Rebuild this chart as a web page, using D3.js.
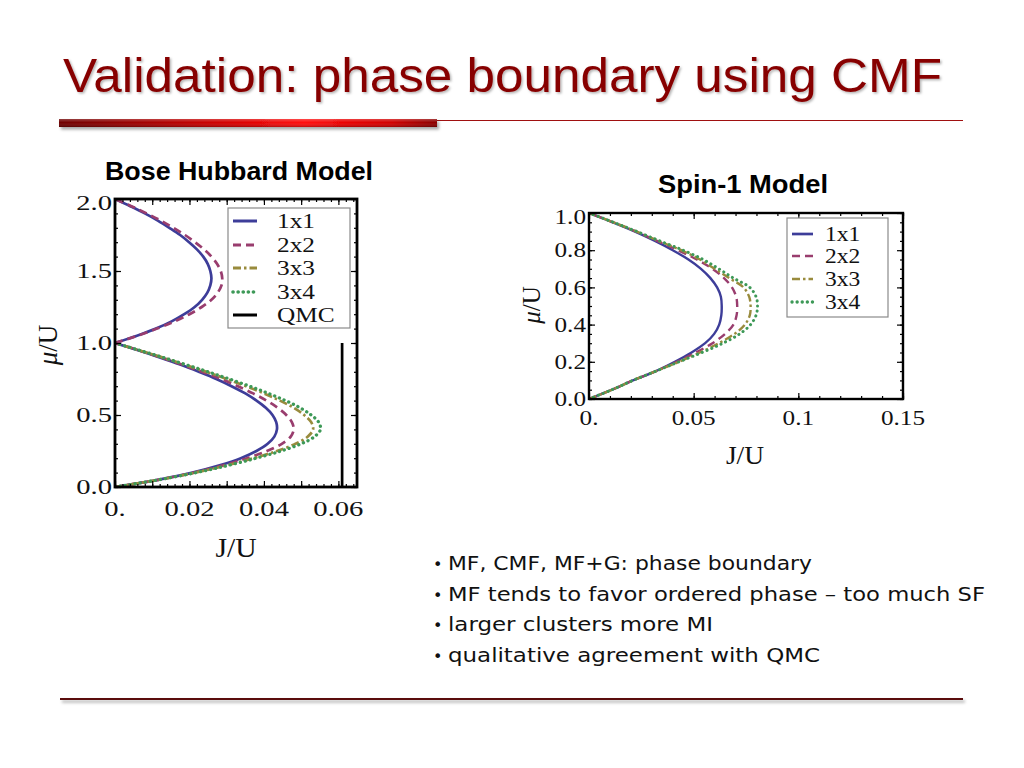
<!DOCTYPE html>
<html><head><meta charset="utf-8">
<script src="https://cdn.jsdelivr.net/npm/d3@7"></script>
<style>body{margin:0;background:#fff;} svg{display:block;}</style>
</head><body>
<svg id="c" width="1024" height="768"></svg>
<script>
// ---------------- DATA ----------------
const mainTitle = "Validation: phase boundary using CMF";
const bhTitle = "Bose Hubbard Model";
const spinTitle = "Spin-1 Model";
const bullets = [
  "MF, CMF, MF+G: phase boundary",
  "MF tends to favor ordered phase \u2013 too much SF",
  "larger clusters more MI",
  "qualitative agreement with QMC"
];
const seriesNames = ["1x1", "2x2", "3x3", "3x4"];
const qmcName = "QMC";

// chemical potential grid (mu/U)
const muLower = [0,0.05,0.1,0.15,0.2,0.25,0.3,0.35,0.4,0.45,0.5,0.55,0.6,0.65,0.7,0.75,0.8,0.85,0.9,0.95,1.0];
const muUpper = [1,1.05,1.1,1.15,1.2,1.25,1.3,1.35,1.4,1.45,1.5,1.55,1.6,1.65,1.7,1.75,1.8,1.85,1.9,1.95,2.0];

// Bose Hubbard: J/U of the boundary, lower lobe (n=1)
const bhLower1x1 = [0,0.0115,0.0208,0.0281,0.0338,0.0380,0.0410,0.0428,0.0435,0.0433,0.0423,0.0405,0.0380,0.0350,0.0313,0.0272,0.0225,0.0175,0.0120,0.0062,0];
const bhLower2x2 = [0,0.0116,0.0212,0.0290,0.0355,0.0408,0.0448,0.0472,0.0480,0.0475,0.0460,0.0437,0.0407,0.0371,0.0330,0.0285,0.0234,0.0180,0.0123,0.0063,0];
const bhLower3x3 = [0,0.0117,0.0216,0.0300,0.0372,0.0435,0.0485,0.0518,0.0532,0.0527,0.0508,0.0480,0.0443,0.0400,0.0352,0.0300,0.0245,0.0187,0.0127,0.0064,0];
const bhLower3x4 = [0,0.0117,0.0218,0.0304,0.0379,0.0446,0.0500,0.0536,0.0552,0.0547,0.0527,0.0497,0.0458,0.0412,0.0362,0.0307,0.0250,0.0190,0.0129,0.0065,0];
// upper lobe (n=2)
const bhUpper1x1 = [0,0.0059,0.0110,0.0152,0.0186,0.0214,0.0234,0.0248,0.0256,0.0259,0.0256,0.0249,0.0237,0.0220,0.0199,0.0175,0.0146,0.0115,0.0080,0.0041,0];
const bhUpper2x2 = [0,0.0060,0.0113,0.0160,0.0200,0.0233,0.0259,0.0276,0.0286,0.0288,0.0284,0.0274,0.0259,0.0239,0.0215,0.0188,0.0157,0.0123,0.0085,0.0044,0];
// QMC critical value (vertical line)
const qmcJ = [0.061, 0.061];
const qmcMu = [0, 1.0];

// Spin-1 model
const spin1x1 = [0,0.011,0.021,0.032,0.041,0.049,0.0555,0.0598,0.0622,0.0632,0.0634,0.0630,0.0612,0.0580,0.0535,0.0475,0.0400,0.0315,0.0220,0.0113,0];
const spin2x2 = [0,0.011,0.021,0.032,0.042,0.051,0.059,0.065,0.0690,0.0705,0.0708,0.0703,0.0683,0.0645,0.0590,0.0515,0.0425,0.0325,0.0225,0.0115,0];
const spin3x3 = [0,0.011,0.021,0.032,0.043,0.053,0.062,0.0695,0.0745,0.0768,0.0772,0.0765,0.0738,0.0670,0.0600,0.0530,0.0440,0.0332,0.0228,0.0116,0];
const spin3x4 = [0,0.011,0.021,0.032,0.043,0.054,0.064,0.0720,0.0772,0.0798,0.0805,0.0798,0.0768,0.0690,0.0620,0.0545,0.0450,0.0338,0.0230,0.0117,0];

// ticks
const bhXTicks = [0, 0.02, 0.04, 0.06];
const bhXTickLabels = ["0.", "0.02", "0.04", "0.06"];
const bhYTicks = [0, 0.5, 1.0, 1.5, 2.0];
const bhYTickLabels = ["0.0", "0.5", "1.0", "1.5", "2.0"];
const spinXTicks = [0, 0.05, 0.1, 0.15];
const spinXTickLabels = ["0.", "0.05", "0.1", "0.15"];
const spinYTicks = [0, 0.2, 0.4, 0.6, 0.8, 1.0];
const spinYTickLabels = ["0.0", "0.2", "0.4", "0.6", "0.8", "1.0"];

// ---------------- STYLE ----------------
const styles = {
  "1x1": {color: "#3d3d99", dash: null, cap: "butt"},
  "2x2": {color: "#993d6e", dash: "8,5", cap: "butt"},
  "3x3": {color: "#998b3d", dash: "8,3,2.5,3", cap: "butt"},
  "3x4": {color: "#3d9957", dash: "0.1,5", cap: "round"},
  "QMC": {color: "#000000", dash: null, cap: "butt"}
};
const serif = "'Liberation Serif', 'Times New Roman', serif";

const svg = d3.select("#c");
const defs = svg.append("defs");
const grad = defs.append("linearGradient").attr("id", "barGrad").attr("x1", "0").attr("x2", "1").attr("y1", "0").attr("y2", "0");
[["0%", "#6e0000"], ["35%", "#c00000"], ["65%", "#ff0a0a"], ["88%", "#d00000"], ["100%", "#8a0000"]]
  .forEach(([o, c]) => grad.append("stop").attr("offset", o).attr("stop-color", c));
const gradV = defs.append("linearGradient").attr("id", "barGloss").attr("x1", "0").attr("x2", "0").attr("y1", "0").attr("y2", "1");
[["0%", "#ffffff", 0.25], ["45%", "#ffffff", 0.0], ["100%", "#000000", 0.25]]
  .forEach(([o, c, a]) => gradV.append("stop").attr("offset", o).attr("stop-color", c).attr("stop-opacity", a));
const sh = defs.append("filter").attr("id", "shadow").attr("filterUnits", "userSpaceOnUse")
  .attr("x", 0).attr("y", 0).attr("width", 1024).attr("height", 768);
sh.append("feDropShadow").attr("dx", 2).attr("dy", 2.5).attr("stdDeviation", 1.5).attr("flood-color", "#000").attr("flood-opacity", 0.35);
const tsh = defs.append("filter").attr("id", "tshadow").attr("x", "-5%").attr("y", "-20%").attr("width", "110%").attr("height", "150%");
tsh.append("feDropShadow").attr("dx", 1.5).attr("dy", 1.5).attr("stdDeviation", 1).attr("flood-color", "#000").attr("flood-opacity", 0.3);

// ---------------- HEADER ----------------
svg.append("text").attr("x", 63).attr("y", 92)
  .attr("font-family", "'Liberation Sans', Arial, sans-serif").attr("font-size", 48)
  .attr("fill", "#870000").attr("textLength", 879).attr("lengthAdjust", "spacingAndGlyphs")
  .attr("filter", "url(#tshadow)").text(mainTitle);
svg.append("rect").attr("x", 437).attr("y", 120).attr("width", 526).attr("height", 1)
  .attr("fill", "#a01010");
svg.append("rect").attr("x", 59).attr("y", 119).attr("width", 378).attr("height", 8)
  .attr("fill", "url(#barGrad)").attr("filter", "url(#shadow)");
svg.append("rect").attr("x", 59).attr("y", 119).attr("width", 378).attr("height", 8)
  .attr("fill", "url(#barGloss)");
svg.append("rect").attr("x", 60).attr("y", 698).attr("width", 903).attr("height", 2)
  .attr("fill", "#5a0c0c").attr("filter", "url(#shadow)");

// chart titles
svg.append("text").attr("x", 239).attr("y", 180).attr("text-anchor", "middle")
  .attr("font-family", "'Liberation Sans', Arial, sans-serif").attr("font-weight", "bold")
  .attr("font-size", 25).attr("textLength", 268).attr("lengthAdjust", "spacingAndGlyphs").text(bhTitle);
svg.append("text").attr("x", 743).attr("y", 193).attr("text-anchor", "middle")
  .attr("font-family", "'Liberation Sans', Arial, sans-serif").attr("font-weight", "bold")
  .attr("font-size", 25).attr("textLength", 170).attr("lengthAdjust", "spacingAndGlyphs").text(spinTitle);

// bullets
const bulletY = [570, 601, 631, 662];
const bulletW = [364, 537, 265, 372];
bullets.forEach((t, i) => {
  svg.append("text").attr("x", 433).attr("y", bulletY[i]).attr("font-family", "'DejaVu Sans', sans-serif")
    .attr("font-size", 16).attr("fill", "#111").text("\u2022");
  const tx = svg.append("text").attr("x", 448).attr("y", bulletY[i]).attr("font-family", "'DejaVu Sans', sans-serif")
    .attr("font-size", 20).attr("fill", "#111").text(t);
  const w = tx.node().getComputedTextLength();
  if (Math.abs(w - bulletW[i]) / bulletW[i] > 0.02) tx.attr("textLength", bulletW[i]).attr("lengthAdjust", "spacingAndGlyphs");
});

// ---------------- helpers ----------------
function stext(g, x, y, str, size, sx, anchor) {
  return g.append("text").attr("transform", `translate(${x},${y}) scale(${sx},1)`)
    .attr("text-anchor", anchor).attr("font-family", serif).attr("font-size", size)
    .attr("fill", "#111").text(str);
}

function drawPlot(cfg) {
  const g = svg.append("g");
  const x = d3.scaleLinear(cfg.xDomain, cfg.xRange);
  const y = d3.scaleLinear(cfg.yDomain, cfg.yRange);
  const [x0, x1] = cfg.xRange, [y0, y1] = cfg.yRange;

  const clipId = "clip" + cfg.id;
  defs.append("clipPath").attr("id", clipId).append("rect")
    .attr("x", x0).attr("y", y1).attr("width", x1 - x0).attr("height", y0 - y1);

  const line = d3.line().x(d => x(d[0])).y(d => y(d[1])).curve(d3.curveCatmullRom.alpha(0.5));
  const cg = g.append("g").attr("clip-path", `url(#${clipId})`);
  cfg.curves.forEach(c => {
    const s = styles[c.name];
    cg.append("path").datum(d3.zip(c.J, c.mu)).attr("d", line)
      .attr("fill", "none").attr("stroke", s.color)
      .attr("stroke-width", c.name === "3x4" ? cfg.lw + 0.6 : cfg.lw)
      .attr("stroke-linecap", s.cap).attr("stroke-dasharray", s.dash);
  });

  // ticks (inward) on all four sides
  const tickStyle = sel => { sel.select(".domain").remove(); sel.selectAll("line").attr("stroke", "#000").attr("stroke-width", 1.2); };
  const xMaj = cfg.xMajor, xMin = cfg.xMinor, yMaj = cfg.yMajor, yMin = cfg.yMinor;
  [[d3.axisBottom, y0], [d3.axisTop, y1]].forEach(([ax, pos]) => {
    g.append("g").attr("transform", `translate(0,${pos})`).call(ax(x).tickValues(xMin).tickSize(-3).tickFormat("")).call(tickStyle);
    g.append("g").attr("transform", `translate(0,${pos})`).call(ax(x).tickValues(xMaj).tickSize(-6).tickFormat("")).call(tickStyle);
  });
  [[d3.axisLeft, x0], [d3.axisRight, x1]].forEach(([ax, pos]) => {
    g.append("g").attr("transform", `translate(${pos},0)`).call(ax(y).tickValues(yMin).tickSize(-3).tickFormat("")).call(tickStyle);
    g.append("g").attr("transform", `translate(${pos},0)`).call(ax(y).tickValues(yMaj).tickSize(-6).tickFormat("")).call(tickStyle);
  });

  // frame
  g.append("rect").attr("x", x0).attr("y", y1).attr("width", x1 - x0).attr("height", y0 - y1)
    .attr("fill", "none").attr("stroke", "#000").attr("stroke-width", cfg.frameW);

  // tick labels
  cfg.xTicks.forEach((v, i) => stext(g, x(v), y0 + cfg.xLabOff, cfg.xTickLabels[i], cfg.fs, cfg.sx, "middle"));
  cfg.yTicks.forEach((v, i) => {
    const yy = y(v) + cfg.fs * 0.34 + (i === cfg.yTicks.length - 1 ? 4 : 0);
    stext(g, x0 - 3, yy, cfg.yTickLabels[i], cfg.fs, cfg.sx, "end");
  });

  // axis titles
  stext(g, cfg.xTitle[0], cfg.xTitle[1], "J/U", cfg.tfs, 1.1, "middle");
  const yt = g.append("text").attr("transform", `translate(${cfg.yTitle[0]},${cfg.yTitle[1]}) rotate(-90)`)
    .attr("text-anchor", "middle").attr("font-family", serif).attr("font-size", cfg.tfs).attr("fill", "#111");
  yt.append("tspan").attr("font-style", "italic").text("\u03bc");
  yt.append("tspan").text("/U");

  // legend
  const L = cfg.legend;
  g.append("rect").attr("x", L.x).attr("y", L.y).attr("width", L.w).attr("height", L.h)
    .attr("fill", "#fff").attr("stroke", "#8a8a8a").attr("stroke-width", 1.2);
  L.names.forEach((n, i) => {
    const s = styles[n];
    const yy = L.rows[i];
    g.append("line").attr("x1", L.sx0).attr("x2", L.sx1).attr("y1", yy).attr("y2", yy)
      .attr("stroke", s.color).attr("stroke-width", n === "3x4" ? cfg.lw + 0.9 : cfg.lw + 0.3)
      .attr("stroke-linecap", s.cap).attr("stroke-dasharray", s.dash);
    stext(g, L.tx, yy + L.fs * 0.34, n, L.fs, L.tsx, "start");
  });
}

const r = (a, b, s) => d3.range(a, b + s / 2, s).map(v => +v.toFixed(6));

drawPlot({
  id: "bh",
  xDomain: [0, 0.065], xRange: [115, 357],
  yDomain: [0, 2], yRange: [487, 199],
  lw: 2.7, frameW: 2.8,
  xMajor: r(0, 0.06, 0.01), xMinor: r(0, 0.064, 0.002),
  yMajor: r(0, 2, 0.5), yMinor: r(0, 2, 0.1),
  xTicks: bhXTicks, xTickLabels: bhXTickLabels, yTicks: bhYTicks, yTickLabels: bhYTickLabels,
  fs: 22, sx: 1.3, xLabOff: 29, tfs: 27,
  xTitle: [236, 557], yTitle: [57, 345],
  curves: [
    {name: "1x1", J: bhLower1x1, mu: muLower},
    {name: "2x2", J: bhLower2x2, mu: muLower},
    {name: "3x3", J: bhLower3x3, mu: muLower},
    {name: "3x4", J: bhLower3x4, mu: muLower},
    {name: "1x1", J: bhUpper1x1, mu: muUpper},
    {name: "2x2", J: bhUpper2x2, mu: muUpper},
    {name: "QMC", J: qmcJ, mu: qmcMu}
  ],
  legend: {x: 228, y: 208, w: 122, h: 120, names: seriesNames.concat([qmcName]),
           rows: [221, 245, 268, 292, 315], sx0: 233, sx1: 257, tx: 277, fs: 22, tsx: 1.15}
});

drawPlot({
  id: "spin",
  xDomain: [0, 0.15], xRange: [589, 903],
  yDomain: [0, 1], yRange: [399, 213],
  lw: 2.4, frameW: 2.4,
  xMajor: r(0, 0.15, 0.05), xMinor: r(0, 0.15, 0.01),
  yMajor: r(0, 1, 0.2), yMinor: r(0, 1, 0.05),
  xTicks: spinXTicks, xTickLabels: spinXTickLabels, yTicks: spinYTicks, yTickLabels: spinYTickLabels,
  fs: 21, sx: 1.2, xLabOff: 26, tfs: 25,
  xTitle: [745, 464], yTitle: [540, 305],
  curves: [
    {name: "1x1", J: spin1x1, mu: muLower},
    {name: "2x2", J: spin2x2, mu: muLower},
    {name: "3x3", J: spin3x3, mu: muLower},
    {name: "3x4", J: spin3x4, mu: muLower}
  ],
  legend: {x: 787, y: 218, w: 101, h: 99, names: seriesNames,
           rows: [234, 256, 279, 302], sx0: 792, sx1: 813, tx: 825, fs: 21, tsx: 1.12}
});
</script>
</body></html>
